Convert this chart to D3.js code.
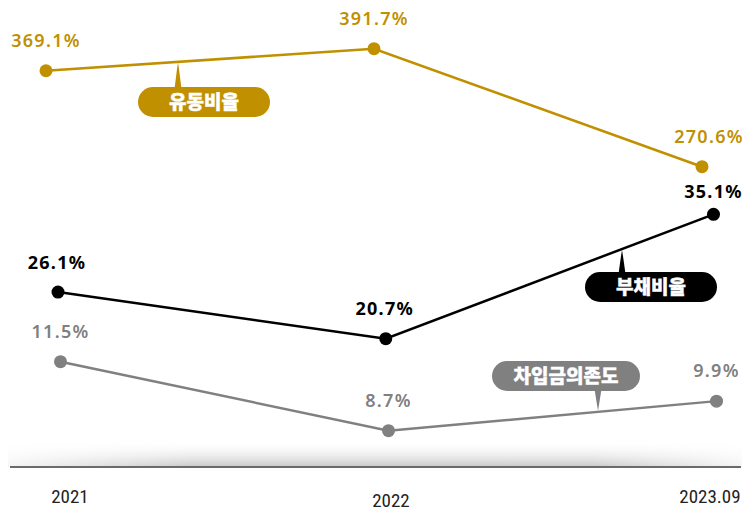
<!DOCTYPE html>
<html>
<head>
<meta charset="utf-8">
<script src="https://cdn.jsdelivr.net/npm/d3@7"></script>
<style>
  body { margin: 0; background: #fff; }
  svg { display: block; }
</style>
</head>
<body>
<script>
// data
var periods = ["2021", "2022", "2023.09"];
var currentRatio = [369.1, 391.7, 270.6];   // 유동비율
var debtRatio = [26.1, 20.7, 35.1];         // 부채비율
var borrowDep = [11.5, 8.7, 9.9];           // 차입금의존도
var seriesNames = ["유동비율", "부채비율", "차입금의존도"];

var width = 750,
    height = 511;

var svg = d3.select("body")
    .append("svg")
    .attr("width", width)
    .attr("height", height);

var defs = svg.append("defs");

// shadow above the baseline
var vg = defs.append("linearGradient").attr("id", "shadeV")
    .attr("x1", 0).attr("y1", 0).attr("x2", 0).attr("y2", 1);
vg.append("stop").attr("offset", "0%").attr("stop-color", "#fff").attr("stop-opacity", 0);
vg.append("stop").attr("offset", "100%").attr("stop-color", "#c8c8c8").attr("stop-opacity", 1);
var hg = defs.append("linearGradient").attr("id", "shadeH")
    .attr("x1", 0).attr("y1", 0).attr("x2", 1).attr("y2", 0);
hg.append("stop").attr("offset", "0%").attr("stop-color", "#333");
hg.append("stop").attr("offset", "25%").attr("stop-color", "#fff");
hg.append("stop").attr("offset", "80%").attr("stop-color", "#fff");
hg.append("stop").attr("offset", "100%").attr("stop-color", "#333");
defs.append("mask").attr("id", "shadeMask")
    .append("rect")
    .attr("x", 8).attr("y", 440).attr("width", 734).attr("height", 27)
    .attr("fill", "url(#shadeH)");

svg.append("rect")
    .attr("x", 8).attr("y", 440).attr("width", 734).attr("height", 27)
    .attr("fill", "url(#shadeV)")
    .attr("mask", "url(#shadeMask)");

svg.append("line")
    .attr("x1", 10).attr("x2", 741)
    .attr("y1", 467).attr("y2", 467)
    .attr("stroke", "#6b6b6b")
    .attr("stroke-width", 2);

// x axis labels
var xAxisScale = d3.scalePoint().domain(periods).range([70, 710]);
var tickY = { "2021": 503, "2022": 507, "2023.09": 503 };
svg.selectAll(".tick-label")
    .data(periods)
    .enter()
    .append("text")
    .attr("class", "tick-label")
    .attr("x", function (d, i) { return xAxisScale(d) + (i == 1 ? 1 : 0); })
    .attr("y", function (d) { return tickY[d]; })
    .attr("text-anchor", "middle")
    .style("font-family", "'Liberation Sans Narrow', 'Roboto Condensed', sans-serif")
    .style("font-size", "19px")
    .style("fill", "#222")
    .text(function (d) { return d; });

// each series sits on its own vertical scale
var series = [
    { name: seriesNames[0], values: currentRatio, color: "#c09000",
      y: d3.scaleLinear().domain([270.6, 391.7]).range([166.7, 48.7]),
      x: d3.scalePoint().domain(periods).range([46, 702]),
      labelDx: [0, 0, 7], labelDy: [-24, -24, -24], bold: 600,
      badge: { x: 138, y: 87, w: 132, ptr: 178, up: true } },
    { name: seriesNames[1], values: debtRatio, color: "#000000",
      y: d3.scaleLinear().domain([20.7, 35.1]).range([338.7, 214.3]),
      x: d3.scalePoint().domain(periods).range([58, 713.5]),
      labelDx: [-1, -1, 0], labelDy: [-23, -24, -16], bold: 700,
      badge: { x: 585, y: 272, w: 132, ptr: 622, up: true } },
    { name: seriesNames[2], values: borrowDep, color: "#808080",
      y: d3.scaleLinear().domain([8.7, 11.5]).range([430.7, 361.7]),
      x: d3.scalePoint().domain(periods).range([60.5, 716.5]),
      labelDx: [0, 0, 0], labelDy: [-24, -24, -24], bold: 600,
      badge: { x: 492, y: 361, w: 148, ptr: 598, up: false } }
];

var line = d3.line();

series.forEach(function (s) {
    var pts = s.values.map(function (v, i) { return [s.x(periods[i]), s.y(v)]; });

    svg.append("path")
        .attr("d", line(pts))
        .attr("fill", "none")
        .attr("stroke", s.color)
        .attr("stroke-width", 2.5);

    svg.selectAll(null)
        .data(pts)
        .enter()
        .append("circle")
        .attr("cx", function (d) { return d[0]; })
        .attr("cy", function (d) { return d[1]; })
        .attr("r", 6.5)
        .attr("fill", s.color);

    svg.selectAll(null)
        .data(s.values)
        .enter()
        .append("text")
        .attr("x", function (d, i) { return pts[i][0] + s.labelDx[i]; })
        .attr("y", function (d, i) { return pts[i][1] + s.labelDy[i]; })
        .attr("text-anchor", "middle")
        .style("font-family", "'Noto Sans', 'Open Sans', sans-serif")
        .style("font-weight", s.bold)
        .style("font-size", "18px")
        .style("letter-spacing", "1.3px")
        .style("fill", s.color)
        .text(function (d) { return d.toFixed(1) + "%"; });

    // badge with a pointer towards its line
    var b = s.badge;
    var g = svg.append("g");
    var lineY = (function () {
        // y on the line at the pointer's x
        for (var i = 0; i < pts.length - 1; i++) {
            if (b.ptr >= pts[i][0] && b.ptr <= pts[i + 1][0]) {
                var t = (b.ptr - pts[i][0]) / (pts[i + 1][0] - pts[i][0]);
                return pts[i][1] + t * (pts[i + 1][1] - pts[i][1]);
            }
        }
        return pts[0][1];
    })();
    var baseY = b.up ? b.y + 2 : b.y + 28;
    var tipY = b.up ? lineY + 1 : lineY - 1;
    g.append("path")
        .attr("d", "M" + (b.ptr - 3.5) + "," + baseY + "L" + (b.ptr - 1) + "," + (b.up ? tipY + 6 : tipY - 6) +
            "L" + b.ptr + "," + tipY + "L" + (b.ptr + 1) + "," + (b.up ? tipY + 6 : tipY - 6) +
            "L" + (b.ptr + 3.5) + "," + baseY + "Z")
        .attr("fill", s.color);
    g.append("rect")
        .attr("x", b.x).attr("y", b.y)
        .attr("width", b.w).attr("height", 30)
        .attr("rx", 15).attr("ry", 15)
        .attr("fill", s.color);
    g.append("text")
        .attr("x", b.x + b.w / 2)
        .attr("y", b.y + 22)
        .attr("text-anchor", "middle")
        .style("font-family", "'Noto Sans CJK KR', sans-serif")
        .style("font-weight", 900)
        .style("font-size", "19px")
        .style("stroke", "#fff")
        .style("stroke-width", 0.4)
        .style("fill", "#fff")
        .text(s.name);
});
</script>
</body>
</html>
